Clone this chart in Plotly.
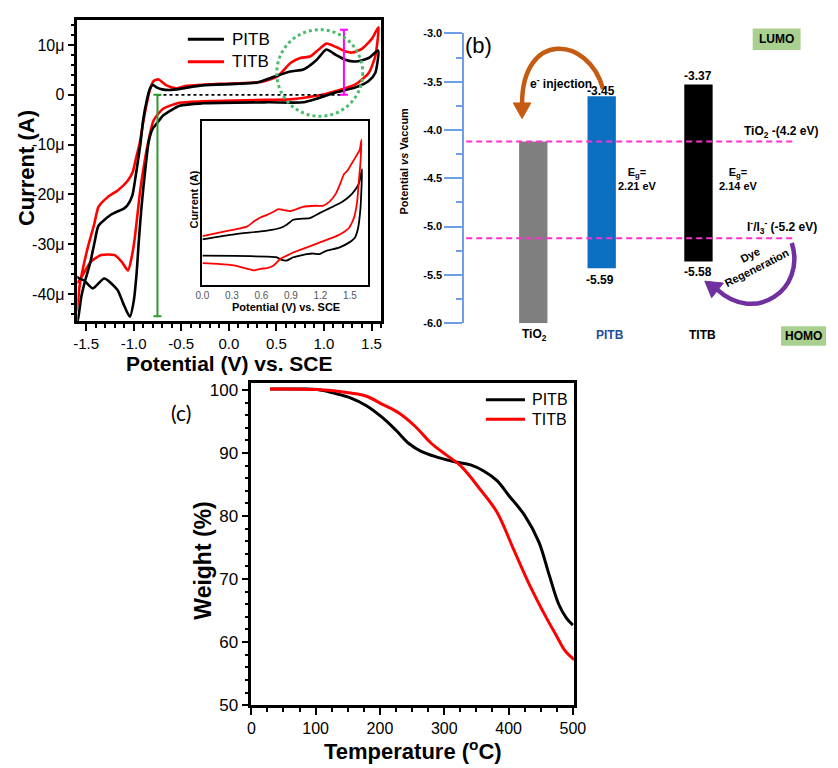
import plotly.graph_objects as go
import numpy as np

W, H = 838, 768
FONT = "Liberation Sans, Arial, sans-serif"


def px(x):
    return x / W


def py(y):
    return 1 - y / H


# ---------------- panel (a): cyclic voltammetry (E / V vs SCE, I / uA) ----------------
PITB_CV_E = [1.57, 1.47, 1.333, 1.23, 1.128, 1.025, 0.922, 0.785, 0.648, 0.44, 0.30, 0.07, -0.28,
             -0.60, -0.70, -0.76, -0.80, -0.83, -0.86, -0.90, -0.928, -0.979, -1.014, -1.065, -1.10,
             -1.24, -1.37, -1.41, -1.46, -1.51, -1.55, -1.58, -1.61, -1.61,
             -1.57, -1.52, -1.43, -1.31, -1.17, -1.11, -1.04, -1.00, -0.97, -0.945, -0.92, -0.894,
             -0.842, -0.80, -0.773, -0.74, -0.688, -0.516, -0.277, 0.408, 0.785, 0.922, 1.128,
             1.333, 1.47, 1.539, 1.57]
PITB_CV_I = [8.9, 7.4, 6.7, 7.0, 8.0, 9.1, 7.0, 5.1, 4.7, 3.4, 2.5, 2.2, 1.9,
             1.0, 1.1, 1.5, 2.0, 1.2, -0.9, -5.0, -9.7, -16.3, -20.2, -22.2, -22.8,
             -24.1, -26.3, -29.5, -34.0, -37.3, -40.5, -44.5, -47.0, -36.5,
             -36.9, -37.3, -38.9, -36.9, -39.2, -41.9, -44.6, -41.5, -36.0, -29.1, -23.0, -17.9,
             -9.4, -6.8, -6.1, -5.3, -4.1, -2.2, -1.7, -1.5, -1.5, -0.8, 0.5,
             1.5, 2.8, 4.4, 8.9]

TITB_CV_E = [1.573, 1.505, 1.402, 1.299, 1.23, 1.128, 1.025, 0.939, 0.854, 0.751, 0.648, 0.511,
             0.34, -0.106, -0.45, -0.55, -0.654, -0.739, -0.79, -0.83, -0.86, -0.90, -0.94,
             -0.979, -1.01, -1.065, -1.168, -1.27, -1.37, -1.415, -1.48, -1.53, -1.57, -1.585,
             -1.61, -1.61,
             -1.57, -1.45, -1.34, -1.20, -1.12, -1.06, -1.02, -0.99, -0.96, -0.93, -0.89, -0.86,
             -0.79, -0.69, -0.52, -0.277, 0.408, 0.648, 0.922, 1.128, 1.333, 1.47, 1.539, 1.573]
TITB_CV_I = [13.6, 11.3, 9.3, 8.5, 8.7, 9.6, 10.3, 9.0, 7.7, 7.4, 6.4, 3.7,
             2.6, 2.2, 1.8, 1.3, 1.9, 3.1, 2.8, 1.0, -1.5, -5.5, -10.0,
             -13.0, -15.5, -17.3, -19.2, -20.5, -22.5, -26.0, -30.5, -34.6, -38.6, -41.5,
             -44.0, -38.0,
             -37.3, -33.5, -32.2, -32.2, -33.7, -35.3, -32.5, -29.0, -24.0, -19.0, -14.0, -10.7,
             -5.1, -2.8, -1.6, -1.3, -1.0, -0.9, -0.2, 0.8, 2.1, 4.4, 7.7, 13.6]

# inset (E / V vs SCE, current in arbitrary units)
PITB_IN_E = [0.0, 0.323, 0.657, 0.79, 0.857, 0.923, 0.99, 1.09, 1.19, 1.29, 1.423, 1.523, 1.59, 1.623,
             1.617, 1.607, 1.583, 1.55, 1.49, 1.39, 1.257, 1.19, 1.123, 1.057, 0.99, 0.923, 0.857,
             0.807, 0.757, 0.657, 0.323, 0.0]
PITB_IN_I = [2.78, 3.08, 3.31, 3.47, 3.67, 3.97, 4.03, 4.07, 4.37, 4.66, 5.06, 5.56, 6.15, 7.04,
             5.85, 4.66, 3.47, 2.88, 2.58, 2.28, 2.08, 1.88, 1.92, 1.88, 1.79, 1.69, 1.49,
             1.53, 1.69, 1.73, 1.77, 1.79]
TITB_IN_E = [0.0, 0.157, 0.323, 0.457, 0.523, 0.59, 0.657, 0.723, 0.773, 0.823, 0.89, 0.957, 1.023,
             1.157, 1.223, 1.29, 1.357, 1.407, 1.44, 1.473, 1.523, 1.573, 1.60, 1.617,
             1.607, 1.59, 1.573, 1.54, 1.49, 1.423, 1.323, 1.19, 1.057, 0.923, 0.857, 0.79, 0.723,
             0.657, 0.59, 0.523, 0.457, 0.39, 0.323, 0.157, 0.0]
TITB_IN_I = [2.98, 3.17, 3.37, 3.57, 3.87, 4.11, 4.27, 4.46, 4.62, 4.56, 4.50, 4.62, 4.76,
             4.82, 4.82, 5.06, 5.56, 6.25, 6.75, 6.94, 7.44, 7.94, 8.23, 8.83,
             7.44, 6.25, 5.06, 4.07, 3.47, 3.17, 2.88, 2.58, 2.28, 1.98, 1.79, 1.59, 1.19,
             1.03, 0.99, 0.89, 0.99, 1.09, 1.19, 1.29, 1.33]

ONSET_E, ONSET_DEPTH = -0.75, 44.5      # green bar (reduction)
OX_E, OX_HEIGHT = 1.21, 13.1            # magenta bar (oxidation)
CIRCLE_E, CIRCLE_I, CIRCLE_RE, CIRCLE_RI = 0.956, 4.4, 0.452, 8.7

CV_XTICKS = [-1.5, -1.0, -0.5, 0.0, 0.5, 1.0, 1.5]
CV_XTEXT = ["-1.5", "-1.0", "-0.5", "0.0", "0.5", "1.0", "1.5"]
CV_YTICKS = [-40, -30, -20, -10, 0, 10]
CV_YTEXT = ["-40\u03bc", "-30\u03bc", "-20\u03bc", "-10\u03bc", "0", "10\u03bc"]
IN_XTICKS = [0.0, 0.3, 0.6, 0.9, 1.2, 1.5]
IN_XTEXT = ["0.0", "0.3", "0.6", "0.9", "1.2", "1.5"]

# ---------------- panel (b): energy levels (eV) ----------------
MATERIALS = ["TiO<sub>2</sub>", "PITB", "TITB"]
BAR_POS = [1.905, 3.797, 6.473]
BAR_TOP = [-4.12, -3.65, -3.53]
BAR_BOTTOM = [-6.0, -5.43, -5.36]
BAR_COLORS = ["#7f7f7f", "#0b6fc1", "#000000"]
TIO2_LEVEL = -4.12
REDOX_LEVEL = -5.12
LEVEL_SPAN = [0.05, 9.16]
EB_TICKS = [-6.0, -5.5, -5.0, -4.5, -4.0, -3.5, -3.0]
EB_TEXT = ["-6.0", "-5.5", "-5.0", "-4.5", "-4.0", "-3.5", "-3.0"]
EB_MINOR = [-5.75, -5.25, -4.75, -4.25, -3.75, -3.25]

# ---------------- panel (c): TGA ----------------
PITB_T = [29, 78, 103, 128, 154, 179, 204, 225, 245, 265, 290, 316, 341, 362, 382, 400, 425, 447,
          463, 478, 490, 500]
PITB_W = [100.15, 100.15, 100.05, 99.5, 98.75, 97.5, 95.6, 93.6, 91.5, 90.2, 89.3, 88.6, 88.1,
          87.1, 85.6, 83.3, 80.1, 75.9, 70.7, 66.0, 63.8, 62.7]
TITB_T = [29, 103, 154, 179, 204, 230, 255, 280, 303, 326, 356, 382, 407, 432, 458, 475, 488, 502]
TITB_W = [100.15, 100.05, 99.5, 99.0, 97.7, 96.3, 94.2, 91.5, 89.7, 87.9, 84.2, 80.6, 74.9,
          69.2, 64.0, 60.9, 58.6, 57.2]
TGA_XTICKS = [0, 100, 200, 300, 400, 500]
TGA_YTICKS = [50, 60, 70, 80, 90, 100]

fig = go.Figure()

cv_line = dict(width=2.6, shape="spline", smoothing=0.6)

# panel (a)
fig.add_trace(go.Scatter(x=TITB_CV_E, y=TITB_CV_I, mode="lines", line=dict(color="#ff0000", **cv_line),
                         xaxis="x", yaxis="y"))
fig.add_trace(go.Scatter(x=PITB_CV_E, y=PITB_CV_I, mode="lines", line=dict(color="#000000", **cv_line),
                         xaxis="x", yaxis="y"))
fig.add_trace(go.Scatter(x=[ONSET_E, OX_E], y=[0, 0], mode="lines",
                         line=dict(color="#000000", width=1.6, dash="dot"), xaxis="x", yaxis="y"))
fig.add_trace(go.Scatter(x=[ONSET_E], y=[0], mode="markers", marker=dict(size=1, color="rgba(0,0,0,0)"),
                         error_y=dict(type="data", symmetric=False, array=[0], arrayminus=[ONSET_DEPTH],
                                      color="#2e9a2e", thickness=2, width=4),
                         xaxis="x", yaxis="y"))
fig.add_trace(go.Scatter(x=[OX_E], y=[0], mode="markers", marker=dict(size=1, color="rgba(0,0,0,0)"),
                         error_y=dict(type="data", symmetric=False, array=[OX_HEIGHT], arrayminus=[0],
                                      color="#ff00ff", thickness=2, width=4),
                         xaxis="x", yaxis="y"))

# inset
in_line = dict(width=1.8, shape="spline", smoothing=0.5)
fig.add_trace(go.Scatter(x=PITB_IN_E, y=PITB_IN_I, mode="lines", line=dict(color="#000000", **in_line),
                         xaxis="x2", yaxis="y2"))
fig.add_trace(go.Scatter(x=TITB_IN_E, y=TITB_IN_I, mode="lines", line=dict(color="#ff0000", **in_line),
                         xaxis="x2", yaxis="y2"))

# panel (b)
fig.add_trace(go.Bar(x=BAR_POS, y=[t - b for t, b in zip(BAR_TOP, BAR_BOTTOM)], base=BAR_BOTTOM,
                     width=0.784, marker=dict(color=BAR_COLORS, line=dict(width=0)),
                     xaxis="x3", yaxis="y3"))
for lvl in (TIO2_LEVEL, REDOX_LEVEL):
    fig.add_trace(go.Scatter(x=LEVEL_SPAN, y=[lvl, lvl], mode="lines",
                             line=dict(color="#ff2fd0", width=2, dash="6px,4px"),
                             xaxis="x3", yaxis="y3"))

# panel (c)
fig.add_trace(go.Scatter(x=PITB_T, y=PITB_W, mode="lines", line=dict(color="#000000", width=3, shape="spline"),
                         xaxis="x4", yaxis="y4"))
fig.add_trace(go.Scatter(x=TITB_T, y=TITB_W, mode="lines", line=dict(color="#ff0000", width=3, shape="spline"),
                         xaxis="x4", yaxis="y4"))

frame = dict(showline=True, linecolor="black", linewidth=2.5, mirror=True, showgrid=False, zeroline=False,
             ticks="outside", ticklen=7, tickwidth=2, tickcolor="black")

cv_xminor = [round(v, 2) for v in np.arange(-1.5, 1.61, 0.1) if abs(round(v * 2) - v * 2) > 1e-6]
cv_yminor = [v for v in range(-44, 15, 2) if v % 10 != 0]
tga_xminor = [v for v in range(25, 501, 25) if v % 100 != 0]
tga_yminor = [v for v in range(52, 101, 2) if v % 10 != 0]

fig.update_layout(
    width=W, height=H, margin=dict(l=0, r=0, t=0, b=0),
    paper_bgcolor="white", plot_bgcolor="rgba(0,0,0,0)", showlegend=False,
    font=dict(family=FONT, color="black"),
    xaxis=dict(**frame, domain=[px(72), px(383)], range=[-1.592, 1.603], anchor="y",
               tickmode="array", tickvals=CV_XTICKS, ticktext=CV_XTEXT, tickfont=dict(size=15),
               minor=dict(tickmode="array", tickvals=cv_xminor, ticks="outside", ticklen=4, tickwidth=1.5,
                          tickcolor="black")),
    yaxis=dict(**frame, domain=[py(322), py(14)], range=[-45.5, 15.1], anchor="x",
               tickmode="array", tickvals=CV_YTICKS, ticktext=CV_YTEXT, tickfont=dict(size=16),
               minor=dict(tickmode="array", tickvals=cv_yminor, ticks="outside", ticklen=4, tickwidth=1.5,
                          tickcolor="black")),
    xaxis2=dict(showline=True, linecolor="black", linewidth=2, mirror=True, showgrid=False, zeroline=False,
                domain=[px(200), px(369)], range=[0, 1.68], anchor="y2", ticks="",
                tickmode="array", tickvals=IN_XTICKS, ticktext=IN_XTEXT,
                tickfont=dict(size=10, color="#555555")),
    yaxis2=dict(showline=True, linecolor="black", linewidth=2, mirror=True, showgrid=False, zeroline=False,
                domain=[py(285), py(117)], range=[0, 10], anchor="x2", showticklabels=False, ticks=""),
    xaxis3=dict(visible=False, domain=[px(468), 1.0], range=[0, 10], anchor="y3"),
    yaxis3=dict(showline=True, linecolor="#6d9eeb", linewidth=2, showgrid=False, zeroline=False,
                domain=[py(324), py(28)], range=[-6.0, -3.0], anchor="x3",
                ticks="outside", ticklen=18, tickwidth=2, tickcolor="#6d9eeb",
                tickmode="array", tickvals=EB_TICKS, ticktext=EB_TEXT,
                tickfont=dict(size=11, weight="bold"),
                minor=dict(tickmode="array", tickvals=EB_MINOR, ticks="outside", ticklen=6, tickwidth=1.5,
                           tickcolor="#6d9eeb")),
    xaxis4=dict(**frame, domain=[px(250), px(580)], range=[0, 501.5], anchor="y4",
                tickmode="array", tickvals=TGA_XTICKS, tickfont=dict(size=16),
                minor=dict(tickmode="array", tickvals=tga_xminor, ticks="outside", ticklen=4, tickwidth=1.5,
                           tickcolor="black")),
    yaxis4=dict(**frame, domain=[py(714), py(385)], range=[50, 101.1], anchor="x4",
                tickmode="array", tickvals=TGA_YTICKS, tickfont=dict(size=17),
                minor=dict(tickmode="array", tickvals=tga_yminor, ticks="outside", ticklen=4, tickwidth=1.5,
                           tickcolor="black")),
)


def ann(text, x, y, size, color="black", angle=0, xanchor="center", yanchor="middle", family=FONT):
    return dict(text=text, x=px(x), y=py(y), xref="paper", yref="paper", showarrow=False,
                font=dict(size=size, color=color, family=family), textangle=angle,
                xanchor=xanchor, yanchor=yanchor)


def path(points, close=False):
    s = "M " + " L ".join(f"{px(a):.5f},{py(b):.5f}" for a, b in points)
    return s + (" Z" if close else "")


def bez(p0, p1, p2, p3):
    f = lambda p: f"{px(p[0]):.5f},{py(p[1]):.5f}"
    return f"M {f(p0)} C {f(p1)} {f(p2)} {f(p3)}"


annotations = [
    # panel a
    ann("<b>Current (A)</b>", 20, 166, 22, angle=-90),
    ann("<b>Potential (V) vs. SCE</b>", 228, 365, 21),
    ann("PITB", 228, 34, 17, xanchor="left"),
    ann("TITB", 228, 57, 17, xanchor="left"),
    ann("<b>Current (A)</b>", 191, 198, 11, angle=-90),
    ann("<b>Potential (V) vs. SCE</b>", 285, 307, 11),
    # panel b
    ann("<b>Potential <i>vs</i> Vaccum</b>", 406, 158, 11, angle=-90),
    ann("(b)", 482, 40, 22),
    ann("<b>e<sup>-</sup> injection</b>", 567, 79, 12),
    ann("<b>-3.45</b>", 608, 87, 12),
    ann("<b>-3.37</b>", 707, 71, 12),
    ann("<b>-5.59</b>", 607, 280, 12),
    ann("<b>-5.58</b>", 707, 272, 12),
    ann("<b>E<sub>g</sub>=<br>2.21 eV</b>", 645, 177, 11),
    ann("<b>E<sub>g</sub>=<br>2.14 eV</b>", 748, 177, 11),
    ann("<b>TiO<sub>2</sub> -(4.2 eV)</b>", 832, 129, 12, xanchor="right"),
    ann("<b>I<sup>-</sup>/I<sub>3</sub><sup>-</sup> (-5.2 eV)</b>", 831, 226, 12, xanchor="right"),
    ann("<b>Dye<br>Regeneration</b>", 764, 260, 11, angle=-27),
    ann("<b>" + MATERIALS[0] + "</b>", 540, 336, 12),
    ann("<b>" + MATERIALS[1] + "</b>", 617, 336, 12, color="#1f4e9c"),
    ann("<b>" + MATERIALS[2] + "</b>", 712, 336, 12),
    ann("<b>LUMO</b>", 787.5, 34, 12),
    ann("<b>HOMO</b>", 815, 337, 12),
    # panel c
    ann("(c)", 178, 415, 21, family="Lato, Open Sans, sans-serif"),
    ann("<b>Weight (%)</b>", 201, 566, 23, angle=-90),
    ann("<b>Temperature (<sup>o</sup>C)</b>", 415, 760, 22),
    ann("PITB", 535, 402, 16, xanchor="left"),
    ann("TITB", 535, 422, 16, xanchor="left"),
]

shapes = [
    # legend samples
    dict(type="line", xref="paper", yref="paper", x0=px(185), x1=px(222), y0=py(34), y1=py(34),
         line=dict(color="black", width=3)),
    dict(type="line", xref="paper", yref="paper", x0=px(185), x1=px(222), y0=py(57), y1=py(57),
         line=dict(color="#ff0000", width=3)),
    dict(type="line", xref="paper", yref="paper", x0=px(490), x1=px(530), y0=py(402), y1=py(402),
         line=dict(color="black", width=3)),
    dict(type="line", xref="paper", yref="paper", x0=px(490), x1=px(530), y0=py(422), y1=py(422),
         line=dict(color="#ff0000", width=3)),
    # dotted circle (a)
    dict(type="circle", xref="x", yref="y", x0=CIRCLE_E - CIRCLE_RE, x1=CIRCLE_E + CIRCLE_RE,
         y0=CIRCLE_I - CIRCLE_RI, y1=CIRCLE_I + CIRCLE_RI,
         line=dict(color="#4cbb6c", width=3, dash="dot")),
    # LUMO / HOMO boxes
    dict(type="rect", xref="paper", yref="paper", x0=px(763), x1=px(812), y0=py(45), y1=py(23),
         fillcolor="#a9d08e", line=dict(width=0), layer="below"),
    dict(type="rect", xref="paper", yref="paper", x0=px(792), x1=px(838), y0=py(347), y1=py(327),
         fillcolor="#a9d08e", line=dict(width=0), layer="below"),
    # e- injection arrow
    dict(type="path", xref="paper", yref="paper", path=bez((610, 85), (595, 30), (527, 25), (527, 100)),
         line=dict(color="#c55a11", width=4.5)),
    dict(type="path", xref="paper", yref="paper", path=path([(527, 115), (518, 99), (536, 99)], close=True),
         fillcolor="#c55a11", line=dict(color="#c55a11", width=1)),
    # dye regeneration arrow
    dict(type="path", xref="paper", yref="paper", path=bez((803, 242), (818, 290), (765, 325), (727, 290)),
         line=dict(color="#7030a0", width=4.5)),
    dict(type="path", xref="paper", yref="paper", path=path([(714, 281), (733, 283), (721, 298)], close=True),
         fillcolor="#7030a0", line=dict(color="#7030a0", width=1)),
]

fig.update_layout(annotations=annotations, shapes=shapes)
fig.write_html("out.html", config={"displayModeBar": False},
               post_script="document.body.style.margin='0';document.body.style.overflow='hidden';")
